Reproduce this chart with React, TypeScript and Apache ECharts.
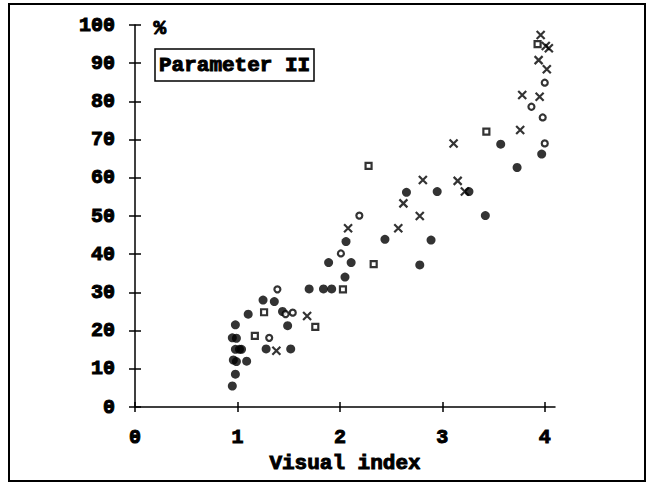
import React, { useEffect, useRef } from "react";
import * as echarts from "echarts";

// Filled circles
const filledX = [0.95, 0.98, 0.96, 0.99, 1.09, 0.98, 1.02, 1.04, 0.95, 0.99, 0.98, 1.105, 1.25, 1.36, 1.28, 1.49, 1.44, 1.52, 1.70, 1.84, 1.92, 2.05, 1.89, 2.11, 2.06, 2.44, 2.89, 2.78, 2.65, 2.95, 3.26, 3.42, 3.57, 3.73, 3.97];
const filledY = [5.5, 8.6, 12.3, 11.9, 12.0, 15.1, 15.1, 15.1, 18.1, 18.0, 21.5, 24.3, 28.0, 27.6, 15.2, 21.3, 25.0, 15.2, 30.9, 30.9, 30.9, 34.0, 37.8, 37.8, 43.3, 43.9, 43.7, 37.2, 56.2, 56.4, 56.4, 50.1, 68.8, 62.7, 66.2];
// Open circles
const openX = [1.31, 1.39, 1.47, 1.54, 2.01, 2.19, 3.87, 3.98, 4.0, 4.0];
const openY = [18.1, 30.8, 24.3, 24.7, 40.2, 50.1, 78.6, 75.8, 84.9, 69.0];
// Open squares
const squareX = [1.17, 1.26, 1.76, 2.03, 2.28, 2.33, 3.43, 3.93];
const squareY = [18.6, 24.8, 21.0, 30.8, 63.1, 37.4, 72.1, 95.0];
// Crosses
const crossX = [1.38, 1.68, 2.08, 2.57, 2.62, 2.78, 2.81, 3.11, 3.15, 3.22, 3.76, 3.78, 3.95, 3.94, 3.96, 4.01, 4.04, 4.02];
const crossY = [14.7, 23.8, 46.8, 46.8, 53.3, 50.0, 59.4, 69.0, 59.2, 56.4, 72.5, 81.7, 81.2, 90.8, 97.4, 94.5, 93.9, 88.4];

const xTicks = [0, 1, 2, 3, 4];
const yTicks = [0, 10, 20, 30, 40, 50, 60, 70, 80, 90, 100];

const FONT = "Liberation Mono";

const zip = (xs: number[], ys: number[]) => xs.map((x, i) => [x, ys[i]]);

export default function App() {
  const ref = useRef<HTMLDivElement>(null);
  useEffect(() => {
    if (!ref.current) return;
    const chart = echarts.init(ref.current, null, { renderer: "svg" });
    const heavy = {
      fontFamily: FONT,
      fontWeight: "bold" as const,
      color: "#000",
      textBorderColor: "#000",
      textBorderWidth: 1,
    };
    const labelStyle = { ...heavy, fontSize: 20 };
    const xBase = {
      type: "value" as const,
      min: 0,
      max: 4.1,
      position: "bottom" as const,
      splitLine: { show: false },
    };
    const yBase = {
      type: "value" as const,
      min: 0,
      max: 100,
      interval: 10,
      position: "left" as const,
      splitLine: { show: false },
    };
    chart.setOption({
      animation: false,
      backgroundColor: "#fff",
      title: {
        text: "Parameter II",
        left: 155,
        top: 49,
        padding: [6, 4, 5, 4],
        borderWidth: 1.5,
        borderColor: "#000",
        textStyle: { ...heavy, fontSize: 21 },
      },
      grid: { left: 135, top: 25, right: 95, bottom: 80, containLabel: false },
      xAxis: [
        {
          ...xBase,
          name: "Visual index",
          nameLocation: "middle",
          nameGap: 46,
          nameTextStyle: { ...heavy, fontSize: 21 },
          axisLine: { show: true, onZero: false, lineStyle: { color: "#000", width: 1.5 } },
          axisTick: { show: true, inside: false, length: 5, customValues: xTicks, lineStyle: { color: "#000", width: 1.5 } },
          axisLabel: { ...labelStyle, customValues: xTicks, margin: 20 },
        },
        {
          ...xBase,
          axisLine: { show: false },
          axisTick: { show: true, inside: true, length: 5, customValues: xTicks, lineStyle: { color: "#000", width: 1.5 } },
          axisLabel: { show: false },
        },
      ],
      yAxis: [
        {
          ...yBase,
          axisLine: { show: true, onZero: false, lineStyle: { color: "#000", width: 1.5 } },
          axisTick: { show: true, inside: false, length: 6, lineStyle: { color: "#000", width: 1.5 } },
          axisLabel: { ...labelStyle, margin: 20, customValues: yTicks },
        },
        {
          ...yBase,
          axisLine: { show: false },
          axisTick: { show: true, inside: true, length: 6, lineStyle: { color: "#000", width: 1.5 } },
          axisLabel: { show: false },
        },
      ],
      graphic: [
        {
          type: "rect",
          shape: { x: 9, y: 4, width: 636, height: 477 },
          style: { fill: "none", stroke: "#000", lineWidth: 2 },
          silent: true,
        },
        {
          type: "text",
          left: 153,
          top: 17,
          style: { text: "%", fontFamily: FONT, fontWeight: "bold", fontSize: 21, fill: "#000", stroke: "#000", lineWidth: 1 },
        },
      ],
      series: [
        {
          type: "scatter",
          data: zip(filledX, filledY),
          symbol: "circle",
          symbolSize: 9,
          itemStyle: { color: "#000" },
        },
        {
          type: "scatter",
          data: zip(openX, openY),
          symbol: "circle",
          symbolSize: 6,
          itemStyle: { color: "#fff", borderColor: "#000", borderWidth: 2.2 },
        },
        {
          type: "scatter",
          data: zip(squareX, squareY),
          symbol: "rect",
          symbolSize: 6,
          itemStyle: { color: "#fff", borderColor: "#000", borderWidth: 2.2 },
        },
        {
          type: "scatter",
          data: zip(crossX, crossY),
          symbol: "path://M0,0L10,10M10,0L0,10",
          symbolSize: 8,
          symbolKeepAspect: true,
          itemStyle: { color: "none", borderColor: "#000", borderWidth: 2.2 },
        },
      ],
    });
    return () => chart.dispose();
  }, []);
  return (
    <div
      ref={ref}
      style={{ position: "fixed", left: 0, top: 0, width: 650, height: 487, background: "#fff" }}
    />
  );
}
